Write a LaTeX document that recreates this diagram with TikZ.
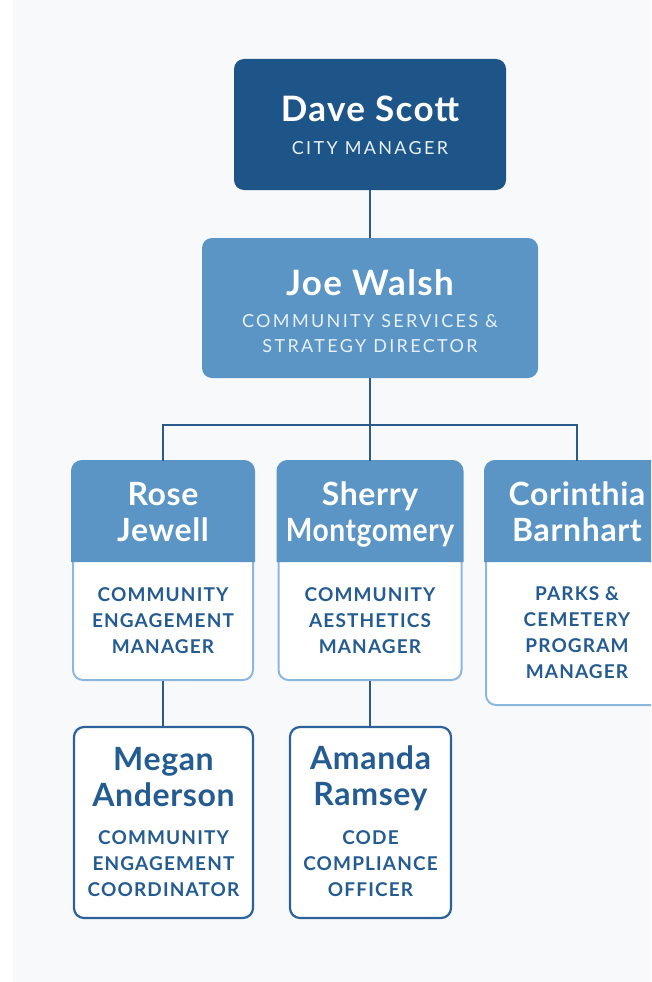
\documentclass[tikz,border=0pt]{standalone}
\usepackage{fontspec}
\setmainfont{Lato}
\newfontfamily\namefont[LetterSpace=2]{Lato}
\newfontfamily\bignamefont[LetterSpace=4]{Lato}
\newfontfamily\capsfont[LetterSpace=13]{Lato}
\newfontfamily\rolefont[LetterSpace=6]{Lato}

\definecolor{navy}{HTML}{1D5589}
\definecolor{midblue}{HTML}{5A95C6}
\definecolor{paleline}{HTML}{8DB8DE}
\definecolor{darkline}{HTML}{2C6299}
\definecolor{textblue}{HTML}{245B91}
\definecolor{linkblue}{HTML}{2A5A8A}
\definecolor{softwhite}{HTML}{E8F0F8}
\definecolor{bg}{HTML}{F8F9FA}

\tikzset{
	card/.style = {rectangle, rounded corners = 10pt, inner sep = 0pt},
	link/.style = {draw = linkblue, line width = 2.5pt},
	bigperson/.style = {font = \bignamefont\bfseries\fontsize{35}{40}\selectfont, text = white, inner sep = 0pt},
	person/.style = {font = \namefont\bfseries\fontsize{32}{36}\selectfont, align = center, inner sep = 0pt},
	toptitle/.style = {font = \capsfont\fontsize{18}{25}\selectfont, text = softwhite, align = center, inner sep = 0pt},
	jobtitle/.style = {font = \rolefont\bfseries\fontsize{19}{26}\selectfont, text = textblue, align = center, inner sep = 0pt}
}

\begin{document}
\begin{tikzpicture}[x = 1pt, y = -1pt]
	\useasboundingbox (0, 0) rectangle (651, 982);
	\clip (0, 0) rectangle (651, 982);
	\fill [white] (0, 0) rectangle (651, 982);
	\fill [bg] (13, 0) rectangle (651, 982);

	% boxes
	\node [card, fill = navy, minimum width = 272pt, minimum height = 131pt] (dave) at (370, 124.5) {};
	\node [card, fill = midblue, minimum width = 336pt, minimum height = 140pt] (joe) at (370, 308) {};

	\node [card, draw = paleline, line width = 2pt, fill = white, minimum width = 180pt, minimum height = 218pt] (rose) at (163, 571) {};
	\node [card, draw = paleline, line width = 2pt, fill = white, minimum width = 183pt, minimum height = 218pt] (sherry) at (370, 571) {};
	\node [card, draw = paleline, line width = 2pt, fill = white, minimum width = 182pt, minimum height = 243pt] (corinthia) at (577, 583.5) {};

	\foreach \card in {rose, sherry, corinthia}
		\path [fill = midblue, draw = midblue, line width = 2pt] ([yshift = -100pt] \card.north west) [rounded corners = 10pt] -- (\card.north west) -- (\card.north east) [sharp corners] -- ([yshift = -100pt] \card.north east) -- cycle;

	\node [card, draw = darkline, line width = 2.2pt, fill = white, minimum width = 179pt, minimum height = 191pt] (megan) at (163.5, 822.5) {};
	\node [card, draw = darkline, line width = 2.2pt, fill = white, minimum width = 161pt, minimum height = 191pt] (amanda) at (370.5, 822.5) {};

	% texts
	\node [bigperson] (dave name) at (370, 109) {Dave Scott};
	\node [toptitle] (dave role) at (370, 148.5) {CITY MANAGER};

	\node [bigperson] (joe name) at (370, 282.5) {Joe Walsh};
	\node [toptitle] (joe role) at (370, 333.5) {COMMUNITY SERVICES \&\\STRATEGY DIRECTOR};

	\node [person, text = white] (rose name) at (163, 512) {Rose\\Jewell};
	\node [person, text = white] (sherry name) at (370, 514) {Sherry\\\scalebox{0.88}[1]{Montgomery}};
	\node [person, text = white] (corinthia name) at (577, 512) {Corinthia\\Barnhart};

	\node [jobtitle] (rose role) at (163, 620.5) {COMMUNITY\\ENGAGEMENT\\MANAGER};
	\node [jobtitle] (sherry role) at (370, 620.5) {COMMUNITY\\AESTHETICS\\MANAGER};
	\node [jobtitle] (corinthia role) at (577, 633) {PARKS \&\\CEMETERY\\PROGRAM\\MANAGER};

	\node [person, text = textblue] (megan name) at (163.5, 777) {Megan\\Anderson};
	\node [jobtitle] (megan role) at (163.5, 863.5) {COMMUNITY\\ENGAGEMENT\\COORDINATOR};

	\node [person, text = textblue] (amanda name) at (370.5, 778.5) {Amanda\\Ramsey};
	\node [jobtitle] (amanda role) at (370.5, 863.5) {CODE\\COMPLIANCE\\OFFICER};

	% connectors
	\coordinate (split) at (370, 425);

	\draw [link] (dave.south) -- (joe.north);
	\draw [link] (joe.south) -- (sherry.north);
	\draw [link] (rose.north) |- (split) -| (corinthia.north);

	\draw [link] (rose.south) -- (rose.south |- megan.north);
	\draw [link] (sherry.south) -- (sherry.south |- amanda.north);
\end{tikzpicture}
\end{document}
